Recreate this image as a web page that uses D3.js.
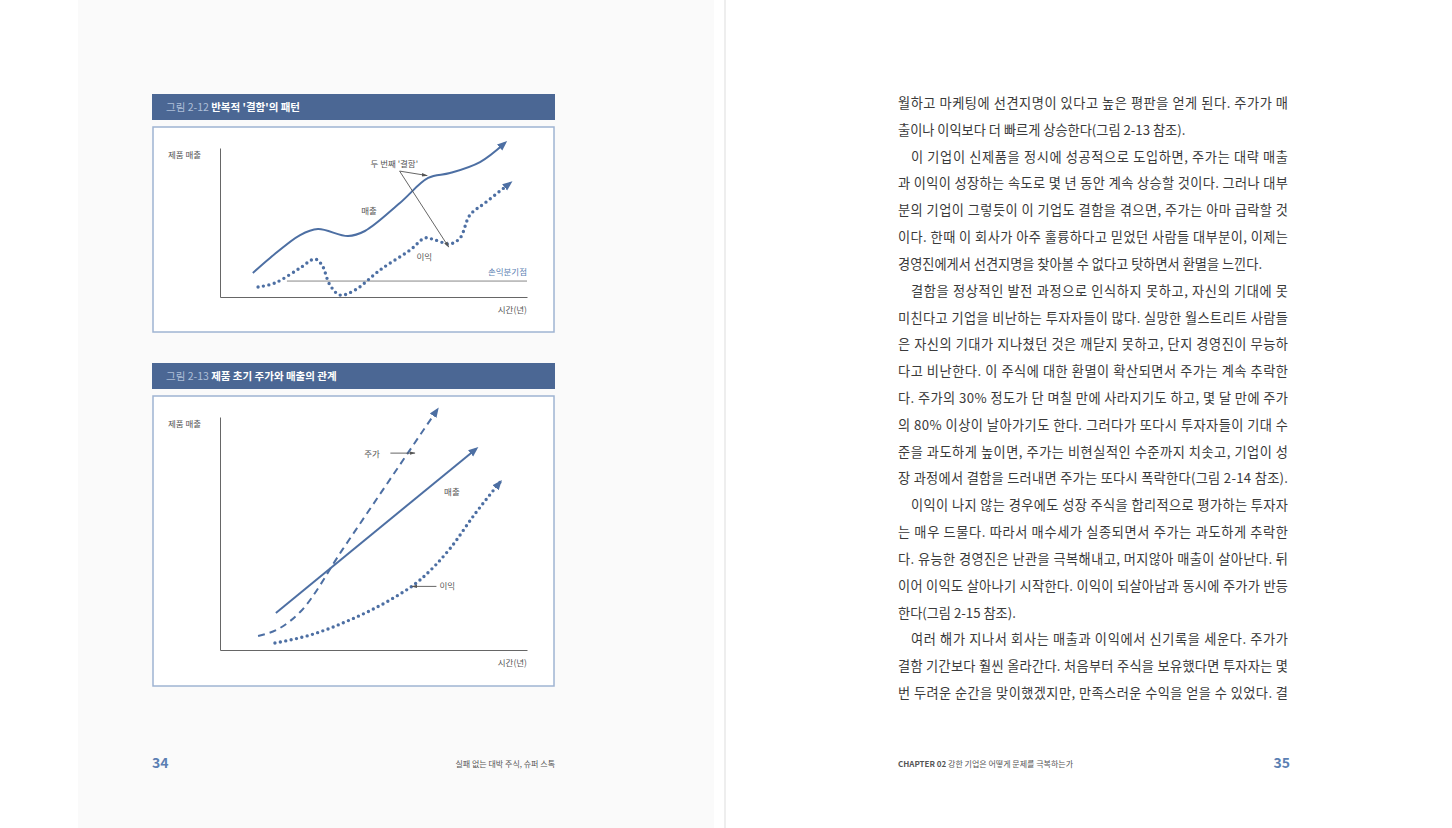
<!DOCTYPE html>
<html><head><meta charset="utf-8">
<script src="https://cdn.jsdelivr.net/npm/d3@7"></script>
<style>
body{margin:0;background:#fff;}
svg{display:block;font-family:"Noto Sans CJK KR","Noto Sans",sans-serif;}
</style></head>
<body><div class="chart"></div>
<script>
// chart 1 data (x: time 0-100, y: level 0-100)
const salesWave = [[10.7,16.1],[16.3,26.2],[26.1,41.6],[31.9,45.6],[41.7,40.9],[47.2,44.3],[58.6,63.1],[67.8,79.9],[74.9,83.2],[84.7,90.6],[92.8,103.4]]
const profitWave = [[12.4,6.7],[17.9,9.4],[26.1,19.5],[30.9,25.5],[33.2,21.5],[35.8,8.1],[39.1,1.3],[44.0,4.7],[52.1,18.1],[61.9,31.5],[66.8,39.6],[70.0,38.3],[74.9,35.6],[78.2,39.6],[81.4,55.0],[86.3,63.1],[94.5,76.5]]
const breakEven = {y: 10.7, x0: 21.8, x1: 100}
// chart 2 data
const salesLine = [[18.2,15.9],[83.4,86.3]]
const stockLine = [[12.4,6.0],[19.5,9.4],[26.1,16.3],[40.0,43.3],[55.0,72.5],[70.7,103.0]]
const profitCurve = [[17.9,3.0],[29.3,6.4],[42.3,12.9],[55.4,21.5],[65.1,30.0],[74.9,43.5],[83.1,58.5],[91.2,72.0]]

const bodyLines = [
  ['월하고 마케팅에 선견지명이 있다고 높은 평판을 얻게 된다. 주가가 매', 0, 1],
  ['출이나 이익보다 더 빠르게 상승한다(그림 2-13 참조).', 0, 0],
  ['이 기업이 신제품을 정시에 성공적으로 도입하면, 주가는 대략 매출', 1, 1],
  ['과 이익이 성장하는 속도로 몇 년 동안 계속 상승할 것이다. 그러나 대부', 0, 1],
  ['분의 기업이 그렇듯이 이 기업도 결함을 겪으면, 주가는 아마 급락할 것', 0, 1],
  ['이다. 한때 이 회사가 아주 훌륭하다고 믿었던 사람들 대부분이, 이제는', 0, 1],
  ['경영진에게서 선견지명을 찾아볼 수 없다고 탓하면서 환멸을 느낀다.', 0, 0],
  ['결함을 정상적인 발전 과정으로 인식하지 못하고, 자신의 기대에 못', 1, 1],
  ['미친다고 기업을 비난하는 투자자들이 많다. 실망한 월스트리트 사람들', 0, 1],
  ['은 자신의 기대가 지나쳤던 것은 깨닫지 못하고, 단지 경영진이 무능하', 0, 1],
  ['다고 비난한다. 이 주식에 대한 환멸이 확산되면서 주가는 계속 추락한', 0, 1],
  ['다. 주가의 30% 정도가 단 며칠 만에 사라지기도 하고, 몇 달 만에 주가', 0, 1],
  ['의 80% 이상이 날아가기도 한다. 그러다가 또다시 투자자들이 기대 수', 0, 1],
  ['준을 과도하게 높이면, 주가는 비현실적인 수준까지 치솟고, 기업이 성', 0, 1],
  ['장 과정에서 결함을 드러내면 주가는 또다시 폭락한다(그림 2-14 참조).', 0, 1],
  ['이익이 나지 않는 경우에도 성장 주식을 합리적으로 평가하는 투자자', 1, 1],
  ['는 매우 드물다. 따라서 매수세가 실종되면서 주가는 과도하게 추락한', 0, 1],
  ['다. 유능한 경영진은 난관을 극복해내고, 머지않아 매출이 살아난다. 뒤', 0, 1],
  ['이어 이익도 살아나기 시작한다. 이익이 되살아남과 동시에 주가가 반등', 0, 1],
  ['한다(그림 2-15 참조).', 0, 0],
  ['여러 해가 지나서 회사는 매출과 이익에서 신기록을 세운다. 주가가', 1, 1],
  ['결함 기간보다 훨씬 올라간다. 처음부터 주식을 보유했다면 투자자는 몇', 0, 1],
  ['번 두려운 순간을 맞이했겠지만, 만족스러운 수익을 얻을 수 있었다. 결', 0, 1]
]

const W = 1452, H = 828
const blue = '#4d6fa3', titleBlue = '#4b6794'

const svg = d3.select('.chart').append('svg').attr('width', W).attr('height', H)

// pages
svg.append('rect').attr('x', 78).attr('y', 0).attr('width', 636).attr('height', H).attr('fill', '#fafafa')
svg.append('line').attr('x1', 725).attr('x2', 725).attr('y1', 0).attr('y2', H).attr('stroke', '#ddd')

const defs = svg.append('defs')
defs.append('marker').attr('id', 'head').attr('viewBox', '0 0 10 10').attr('refX', 7).attr('refY', 5)
  .attr('markerUnits', 'userSpaceOnUse').attr('markerWidth', 10).attr('markerHeight', 10).attr('orient', 'auto')
  .append('path').attr('d', 'M0,1L10,5L0,9z').attr('fill', blue)
defs.append('marker').attr('id', 'headSmall').attr('viewBox', '0 0 10 10').attr('refX', 9).attr('refY', 5)
  .attr('markerUnits', 'userSpaceOnUse').attr('markerWidth', 6).attr('markerHeight', 6).attr('orient', 'auto')
  .append('path').attr('d', 'M0,2L10,5L0,8z').attr('fill', '#555')

function figure(top, boxH, num, title, plotTop, plotBottom) {
  const g = svg.append('g')
  g.append('rect').attr('x', 152).attr('y', top).attr('width', 403).attr('height', 26).attr('fill', titleBlue)
  const t = g.append('text').attr('x', 166).attr('y', top + 17).attr('font-size', 10.5).attr('fill', '#fff')
  t.append('tspan').text(num + ' ').attr('fill', '#aebfd8')
  t.append('tspan').text(title).attr('font-weight', 'bold')
  g.append('rect').attr('x', 153).attr('y', top + 33).attr('width', 401).attr('height', boxH)
    .attr('fill', '#fff').attr('stroke', '#9fb4d2').attr('stroke-width', 1.5)

  const x = d3.scaleLinear().domain([0, 100]).range([220, 527])
  const y = d3.scaleLinear().domain([0, 100]).range([plotBottom, plotTop])
  g.append('g').attr('transform', `translate(0,${plotBottom})`)
    .call(d3.axisBottom(x).ticks(0).tickSizeOuter(0)).select('.domain').attr('stroke', '#666')
  g.append('g').attr('transform', 'translate(220,0)')
    .call(d3.axisLeft(y).ticks(0).tickSizeOuter(0)).select('.domain').attr('stroke', '#666')
  g.append('text').attr('x', 168).attr('y', plotTop + 10).attr('font-size', 8.5).attr('fill', '#555').text('제품 매출')
  g.append('text').attr('x', 527).attr('y', plotBottom + 16).attr('text-anchor', 'end').attr('font-size', 8.5).attr('fill', '#555').text('시간(년)')
  return {g, x, y}
}

const lineOf = (x, y, curve) => d3.line().x(d => x(d[0])).y(d => y(d[1])).curve(curve)

function drawSeries(f, data, kind, curve) {
  const p = f.g.append('path').datum(data).attr('d', lineOf(f.x, f.y, curve))
    .attr('fill', 'none').attr('stroke', blue).attr('marker-end', 'url(#head)')
  if (kind === 'solid') p.attr('stroke-width', 2)
  if (kind === 'dash') p.attr('stroke-width', 2).attr('stroke-dasharray', '7 5')
  if (kind === 'dot') p.attr('stroke-width', 3.4).attr('stroke-linecap', 'round').attr('stroke-dasharray', '0 5.5')
  return p
}

function label(f, px, py, txt, anchor, color) {
  f.g.append('text').attr('x', f.x(px)).attr('y', f.y(py)).attr('font-size', 8.5)
    .attr('text-anchor', anchor || 'start').attr('fill', color || '#555').text(txt)
}
function pointer(f, a, b) {
  f.g.append('line').attr('x1', f.x(a[0])).attr('y1', f.y(a[1])).attr('x2', f.x(b[0])).attr('y2', f.y(b[1]))
    .attr('stroke', '#555').attr('stroke-width', 0.9).attr('marker-end', 'url(#headSmall)')
}

// figure 2-12
const f1 = figure(94, 205, '그림 2-12', "반복적 '결함'의 패턴", 148, 297)
f1.g.append('line').attr('x1', f1.x(breakEven.x0)).attr('x2', f1.x(breakEven.x1))
  .attr('y1', f1.y(breakEven.y)).attr('y2', f1.y(breakEven.y)).attr('stroke', '#888').attr('stroke-width', 1)
label(f1, 100, 14.5, '손익분기점', 'end', '#5b7fb3')
drawSeries(f1, salesWave, 'solid', d3.curveCatmullRom)
drawSeries(f1, profitWave, 'dot', d3.curveCatmullRom)
label(f1, 46, 55.5, '매출', 'start')
label(f1, 64, 25, '이익', 'start')
label(f1, 49, 87, "두 번째 '결함'", 'start')
pointer(f1, [58.5, 84.5], [67.5, 81.5])
pointer(f1, [58.5, 84.5], [74.5, 33.5])

// figure 2-13
const f2 = figure(363, 290, '그림 2-13', '제품 초기 주가와 매출의 관계', 417, 650)
drawSeries(f2, salesLine, 'solid', d3.curveLinear)
drawSeries(f2, stockLine, 'dash', d3.curveMonotoneX)
drawSeries(f2, profitCurve, 'dot', d3.curveMonotoneX)
label(f2, 47, 83, '주가', 'start')
pointer(f2, [55.5, 84.5], [63.5, 84.5])
label(f2, 73, 66.5, '매출', 'start')
pointer(f2, [70.5, 27.3], [62.5, 27.3])
label(f2, 71.5, 26, '이익', 'start')

// right page body text
const lineY = d3.scaleLinear().domain([0, bodyLines.length - 1]).range([108, 698])
const body = svg.append('g').attr('font-size', 13.2).attr('fill', '#3a3a3a')
bodyLines.forEach((l, i) => {
  const x0 = l[1] ? 911 : 898
  const t = body.append('text').attr('x', x0).attr('y', lineY(i)).text(l[0])
  if (l[2]) t.attr('textLength', 1288 - x0).attr('lengthAdjust', 'spacing')
})

// footers
svg.append('text').attr('x', 152).attr('y', 768).attr('font-size', 14).attr('font-weight', 'bold').attr('fill', '#5b7fb3').text('34')
svg.append('text').attr('x', 555).attr('y', 767).attr('text-anchor', 'end').attr('font-size', 8).attr('fill', '#555').text('실패 없는 대박 주식, 슈퍼 스톡')
const ch = svg.append('text').attr('x', 898).attr('y', 767).attr('font-size', 8).attr('fill', '#555')
ch.append('tspan').text('CHAPTER 02 ').attr('font-weight', 'bold')
ch.append('tspan').text('강한 기업은 어떻게 문제를 극복하는가')
svg.append('text').attr('x', 1290).attr('y', 768).attr('text-anchor', 'end').attr('font-size', 14).attr('font-weight', 'bold').attr('fill', '#5b7fb3').text('35')
</script>
</body></html>
